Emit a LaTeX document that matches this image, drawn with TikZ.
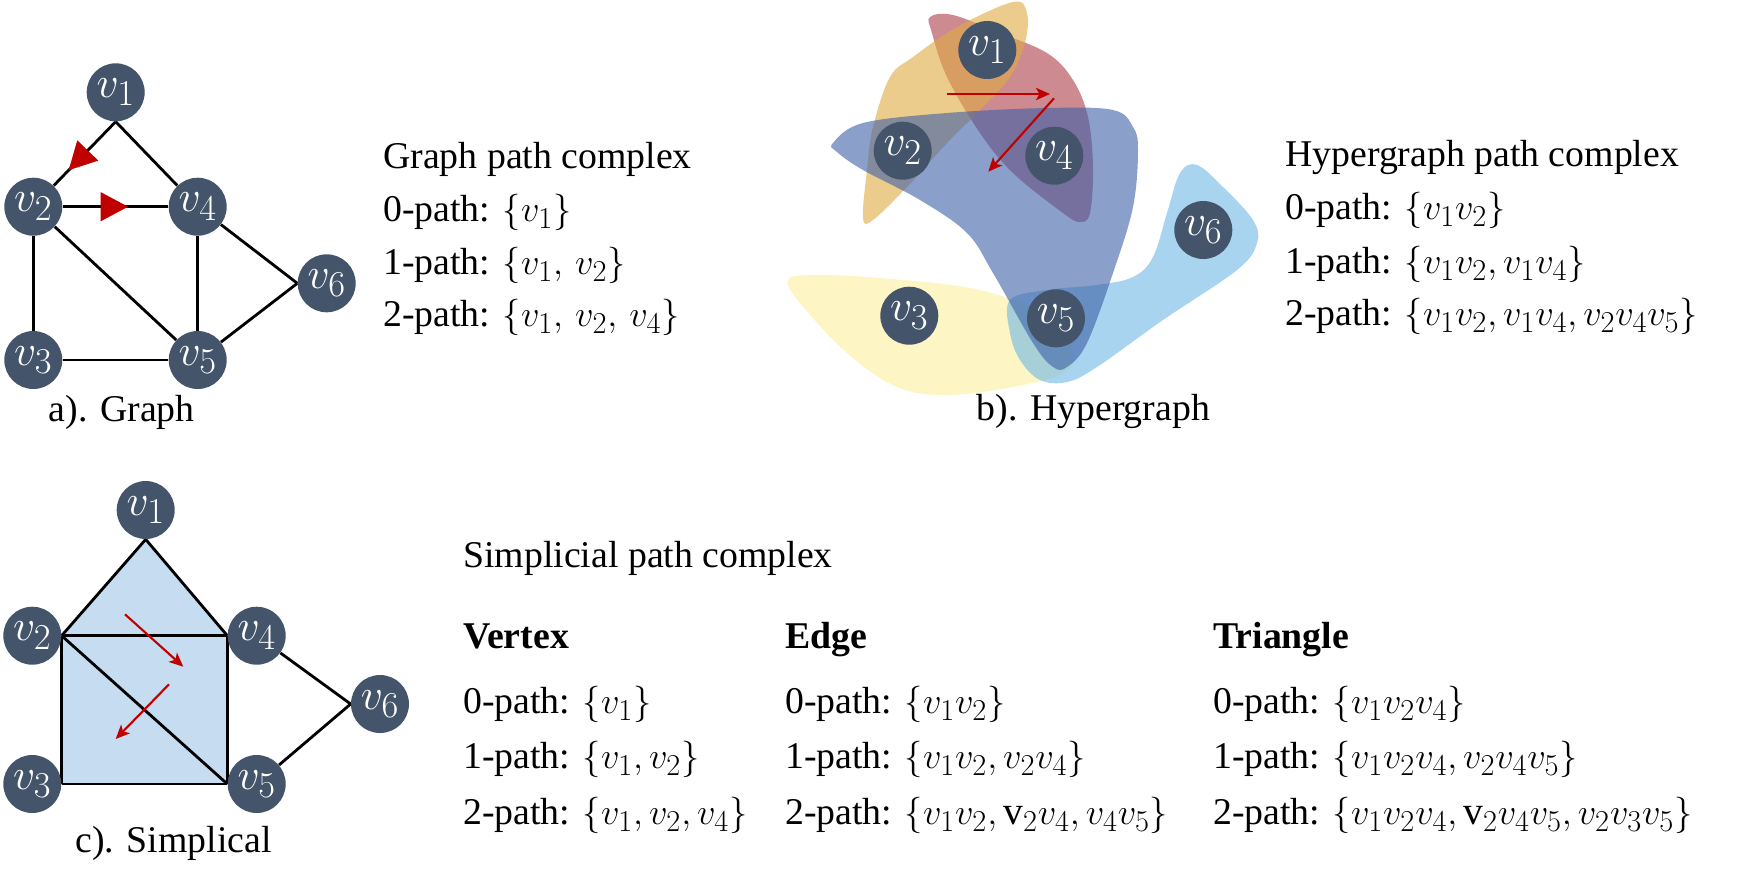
\documentclass[tikz,border=0pt]{standalone}
\usepackage{fontspec}
\setmainfont{Liberation Serif}
\DeclareMathSizes{21.5}{22.5}{16.5}{12.5}
\DeclareMathSizes{26}{27.5}{19.5}{15}
\usetikzlibrary{arrows.meta,decorations.markings,backgrounds}
\definecolor{nodecol}{HTML}{44546A}
\definecolor{arrred}{HTML}{C00000}
\definecolor{hyorange}{HTML}{DFAA3F}
\definecolor{hyred}{HTML}{AC3C48}
\definecolor{hyblue}{HTML}{3C5FA7}
\definecolor{hylight}{HTML}{6EB7E6}
\definecolor{hyyellow}{HTML}{FCEE9B}
\definecolor{simpfill}{HTML}{C6DCF0}
\begin{document}
\begin{tikzpicture}[x=0.02cm,y=-0.02cm,
  vnode/.style={circle,fill=nodecol,minimum size=1.16cm,inner sep=0pt,text=white,font=\fontsize{26}{30}\selectfont},
  edge/.style={line width=1.6pt,black},
  txt/.style={anchor=base west,inner sep=0pt,font=\fontsize{21.5}{26}\selectfont},
  lbl/.style={anchor=base,inner sep=0pt,font=\fontsize{21.5}{26}\selectfont},
  redarr/.style={draw=arrred,line width=1.2pt,-{Stealth[length=8pt,width=7pt,inset=2pt]}},
  midtri/.style={postaction={decorate},decoration={markings,mark=at position #1 with {\arrow[arrred]{Triangle[length=0.55cm,width=0.57cm]}}}},
  blob/.style={fill=#1,fill opacity=0.6,draw=none},
  ]
\useasboundingbox (0,0) rectangle (1739,887);

% ---------------- a) Graph ----------------
\node[vnode] (a1) at (115.7,92.3) {$v_1$};
\node[vnode] (a2) at (33.3,206.7) {$v_2$};
\node[vnode] (a4) at (197.7,206.7) {$v_4$};
\node[vnode] (a6) at (326.7,283.3) {$v_6$};
\node[vnode] (a3) at (33.3,360) {$v_3$};
\node[vnode] (a5) at (197.7,360) {$v_5$};
\begin{scope}[on background layer]
  \draw[edge,midtri=0.76] (a1.south) -- (a2);
  \draw[edge,midtri=0.62] (a2) -- (a4);
  \draw[edge] (a1.south) -- (a4);
  \draw[edge] (a2) -- (a3);
  \draw[edge] (a2) -- (a5);
  \draw[edge] (a3) -- (a5);
  \draw[edge] (a4) -- (a5);
  \draw[edge] (a4) -- (a6.west);
  \draw[edge] (a5) -- (a6.west);
\end{scope}
\node[lbl] (la) at (121.7,421.7) {a). Graph};

\node[txt] (ta0) at (383,168) {Graph path complex};
\node[txt] (ta1) at (383,221) {0-path: $\{v_1\}$};
\node[txt] (ta2) at (383,274) {1-path: $\{v_1,\, v_2\}$};
\node[txt] (ta3) at (383,326) {2-path: $\{v_1,\, v_2,\, v_4\}$};

% ---------------- b) Hypergraph ----------------
\node[vnode] (b1) at (987.3,50) {$v_1$};
\node[vnode] (b2) at (902.7,150.7) {$v_2$};
\node[vnode] (b4) at (1054.3,155.7) {$v_4$};
\node[vnode] (b6) at (1203.3,230) {$v_6$};
\node[vnode] (b3) at (909.3,315.7) {$v_3$};
\node[vnode] (b5) at (1056,318.3) {$v_5$};
\begin{scope}[on background layer]
  % yellow
  \fill[blob=hyyellow] plot[smooth cycle,tension=0.6] coordinates {
    (788,280) (813,275) (880,278) (980,290) (1047,317) (1073,353)
    (1063,373) (1013,387) (947,395) (897,387) (847,353) (800,303)};
  % light blue
  \fill[blob=hylight] plot[smooth cycle,tension=0.6] coordinates {
    (1010,300) (1047,290) (1097,285) (1133,277) (1153,257) (1167,213)
    (1180,173) (1197,165) (1223,187) (1253,220) (1257,243) (1237,270)
    (1163,320) (1097,367) (1067,382) (1040,380) (1020,360) (1010,333)};
  % red
  \fill[blob=hyred] plot[smooth cycle,tension=0.6] coordinates {
    (930,17) (953,15) (997,32) (1047,53) (1073,80) (1088,117) (1093,167)
    (1090,213) (1080,222) (1063,213) (1013,173) (980,133) (947,77) (932,33)};
  % orange
  \fill[blob=hyorange] plot[smooth cycle,tension=0.6] coordinates {
    (1013,2) (1027,13) (1025,43) (1010,77) (980,110) (947,143) (907,187)
    (873,220) (863,218) (867,170) (873,127) (890,77) (913,57) (957,27)};
  % blue
  \fill[blob=hyblue] plot[smooth cycle,tension=0.6] coordinates {
    (833,143) (863,123) (947,113) (1047,108) (1113,110) (1133,127) (1138,150)
    (1133,207) (1113,273) (1087,343) (1067,367) (1053,367) (1033,343)
    (993,273) (967,233) (920,200) (863,170) (837,152)};
\end{scope}
\coordinate (h1s) at (946.7,94);
\coordinate (h1e) at (1050,94);
\coordinate (h2s) at (1054,98.3);
\coordinate (h2e) at (988.3,171.7);
\draw[redarr] (h1s) -- (h1e);
\draw[redarr] (h2s) -- (h2e);
\node[lbl] (lb) at (1093.3,420.7) {b). Hypergraph};

\node[txt] (tb0) at (1285,166) {Hypergraph path complex};
\node[txt] (tb1) at (1285,219) {0-path: $\{v_1v_2\}$};
\node[txt] (tb2) at (1285,273) {1-path: $\{v_1v_2, v_1v_4\}$};
\node[txt] (tb3) at (1285,325) {2-path: $\{v_1v_2, v_1v_4, v_2v_4v_5\}$};

% ---------------- c) Simplicial ----------------
\node[vnode] (c1) at (145.7,510) {$v_1$};
\node[vnode] (c2) at (32.3,635.7) {$v_2$};
\node[vnode] (c4) at (256.7,635.7) {$v_4$};
\node[vnode] (c6) at (380,704) {$v_6$};
\node[vnode] (c3) at (32.3,784) {$v_3$};
\node[vnode] (c5) at (256.7,784) {$v_5$};
\begin{scope}[on background layer]
  \fill[simpfill] (c1.south) -- (c2.east) -- (c3.east) -- (c5.west) -- (c4.west) -- cycle;
  \draw[edge,line join=round] (c1.south) -- (c2.east);
  \draw[edge,line join=round] (c1.south) -- (c4.west);
  \draw[edge] (c2.east) -- (c4.west);
  \draw[edge] (c2.east) -- (c3.east);
  \draw[edge] (c3.east) -- (c5.west);
  \draw[edge] (c4.west) -- (c5.west);
  \draw[edge] (c2.east) -- (c5.west);
  \draw[edge] (c4) -- (c6.west);
  \draw[edge] (c5) -- (c6.west);
\end{scope}
\coordinate (s1s) at (125,614.3);
\coordinate (s1e) at (183.3,666.7);
\coordinate (s2s) at (169,684.3);
\coordinate (s2e) at (115.7,739);
\draw[redarr] (s1s) -- (s1e);
\draw[redarr] (s2s) -- (s2e);
\node[lbl] (lc) at (173.7,852.7) {c). Simplical};

\node[txt] (tc0) at (463,567) {Simplicial path complex};
\node[txt] (tv) at (463,648) {\textbf{Vertex}};
\node[txt] (tv1) at (463,713) {0-path: $\{v_1\}$};
\node[txt] (tv2) at (463,768) {1-path: $\{v_1, v_2\}$};
\node[txt] (tv3) at (463,824) {2-path: $\{v_1, v_2, v_4\}$};
\node[txt] (te) at (785,648) {\textbf{Edge}};
\node[txt] (te1) at (785,713) {0-path: $\{v_1v_2\}$};
\node[txt] (te2) at (785,768) {1-path: $\{v_1v_2, v_2v_4\}$};
\node[txt] (te3) at (785,824) {2-path: $\{v_1v_2, \mathrm{v}_2v_4, v_4v_5\}$};
\node[txt] (tt) at (1213,648) {\textbf{Triangle}};
\node[txt] (tt1) at (1213,713) {0-path: $\{v_1v_2v_4\}$};
\node[txt] (tt2) at (1213,768) {1-path: $\{v_1v_2v_4, v_2v_4v_5\}$};
\node[txt] (tt3) at (1213,824) {2-path: $\{v_1v_2v_4, \mathrm{v}_2v_4v_5, v_2v_3v_5\}$};
\end{tikzpicture}
\end{document}
